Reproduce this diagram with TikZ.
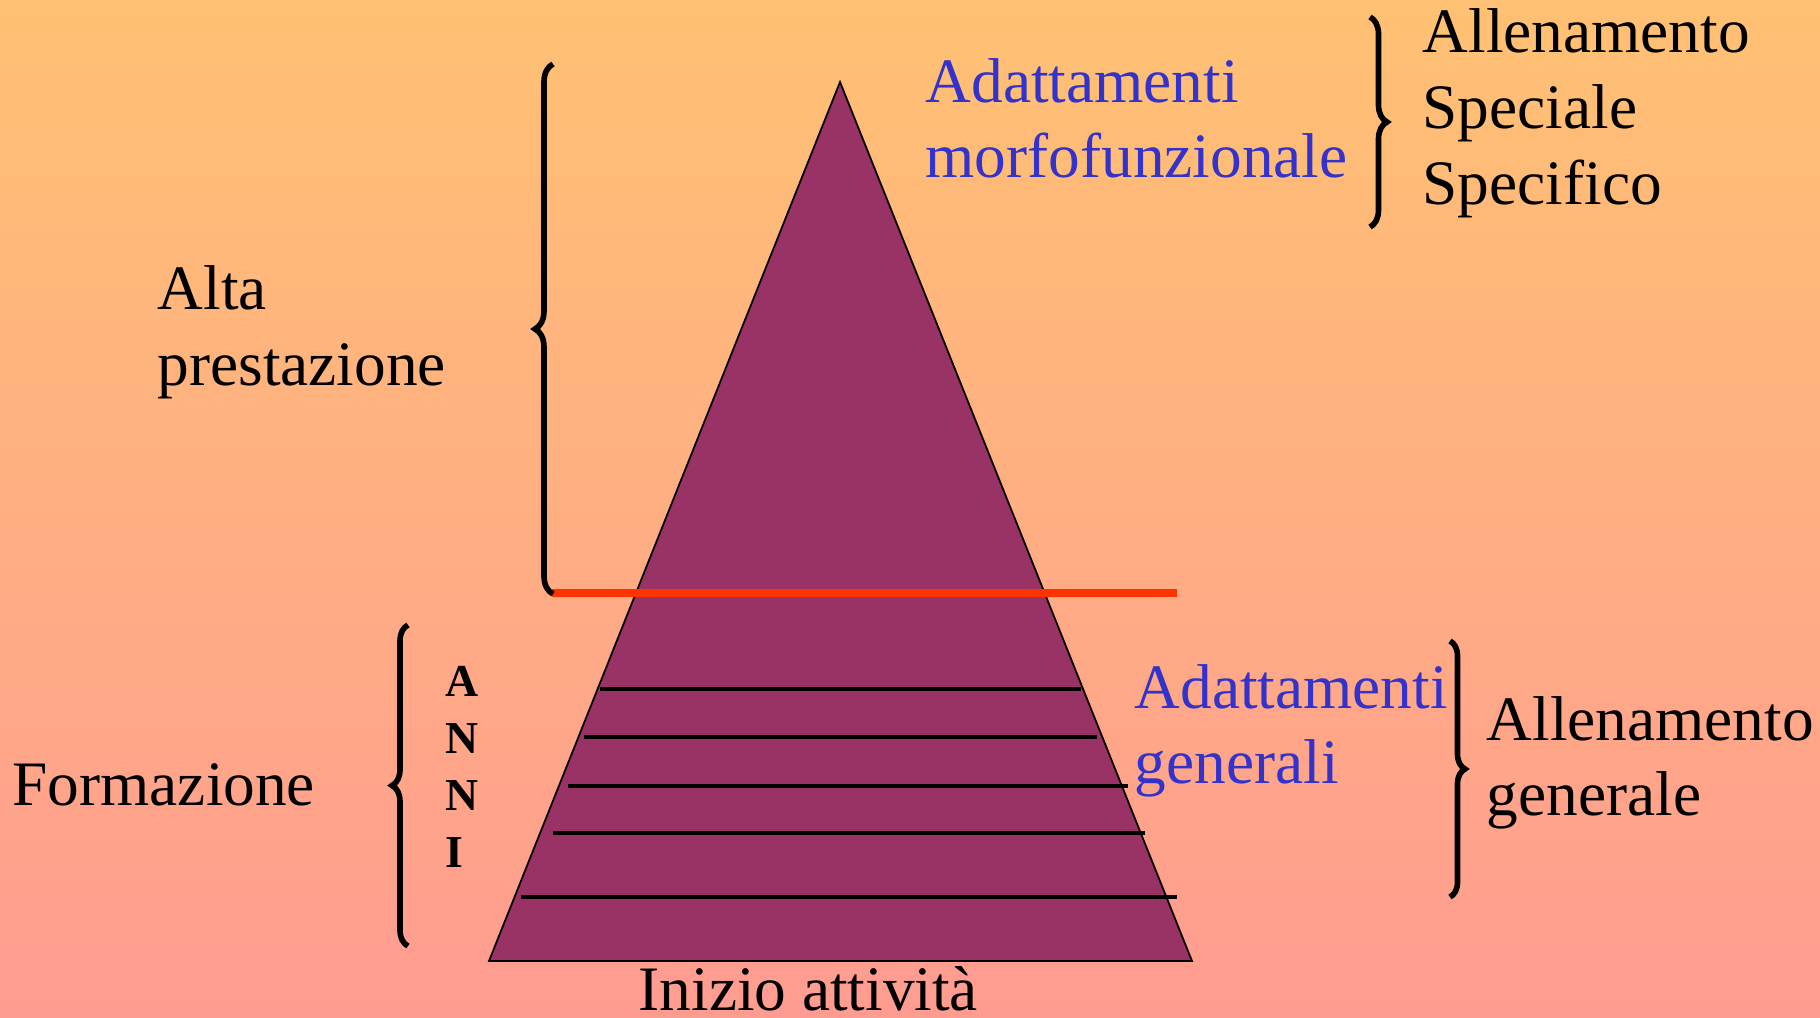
\documentclass[tikz,border=0pt]{standalone}
\usepackage{fontspec}
\setmainfont{Liberation Serif}
\usetikzlibrary{decorations.pathreplacing}
\definecolor{bgtop}{RGB}{255,193,115}
\definecolor{bgbot}{RGB}{255,156,145}
\definecolor{tri}{RGB}{153,51,102}
\definecolor{adapt}{RGB}{51,51,204}
\definecolor{cut}{RGB}{255,51,0}
\begin{document}
\begin{tikzpicture}[x=0.01cm, y=-0.01cm,
    txt/.style={anchor=base west, inner sep=0pt, font=\fontsize{18pt}{21pt}\selectfont},
    blu/.style={txt, text=adapt},
    letter/.style={anchor=base west, inner sep=0pt, font=\fontsize{13pt}{15pt}\selectfont\bfseries},
    rung/.style={line width=1pt},
    curly/.style={decorate, decoration={brace, amplitude=#1}, line width=1.6pt},
    curly/.default=0.16cm]
            \useasboundingbox (0,0) rectangle (1820,1018);
            \shade[top color=bgtop, bottom color=bgbot] (0,0) rectangle (1820,1018);

            \coordinate (apex) at (840,82);
            \coordinate (baseL) at (489,961);
            \coordinate (baseR) at (1192,961);
            \draw[fill=tri, line width=0.5pt] (apex) -- (baseL) -- (baseR) -- cycle;

            \coordinate (cutL) at (552,593);
            \coordinate (cutR) at (1177,593);
            \draw[cut, line width=2.2pt] (cutL) -- (cutR);

            \draw[rung] (600,689) -- (1081,689);
            \draw[rung] (584,737) -- (1097,737);
            \draw[rung] (568,786) -- (1128,786);
            \draw[rung] (553,833) -- (1145,833);
            \draw[rung] (521,897) -- (1177,897);

            \node (morfoA) [blu] at (925,102) {Adattamenti};
            \node (morfoB) [blu] at (925,177) {morfofunzionale};
            \node (specA) [txt] at (1422,53) {Allenamento};
            \node (specB) [txt] at (1422,128) {Speciale};
            \node (specC) [txt] at (1422,204) {Specifico};

            \node (altaA) [txt] at (157,309) {Alta};
            \node (altaB) [txt] at (157,385) {prestazione};

            \node (formaz) [txt] at (12,805) {Formazione};
            \node (annA) [letter] at (445,696) {A};
            \node (annN) [letter] at (445,753) {N};
            \node (annM) [letter] at (445,810) {N};
            \node (annI) [letter] at (445,867) {I};

            \node (genA) [blu] at (1134,708) {Adattamenti};
            \node (genB) [blu] at (1134,783) {generali};
            \node (allgA) [txt] at (1486,740) {Allenamento};
            \node (allgB) [txt] at (1486,815) {generale};

            \node (inizio) [txt] at (638,1010) {Inizio attivit\`a};

            \coordinate (specTop) at (1370,17);
            \coordinate (specBot) at (1370,227);
            \draw[curly=0.17cm] (specTop) -- (specBot);

            \coordinate (altaTop) at (553,64);
            \coordinate (altaBot) at (553,594);
            \draw[curly=0.18cm] (altaBot) -- (altaTop);

            \coordinate (anniTop) at (408,625);
            \coordinate (anniBot) at (408,946);
            \draw[curly] (anniBot) -- (anniTop);

            \coordinate (genTop) at (1450,641);
            \coordinate (genBot) at (1450,897);
            \draw[curly=0.15cm] (genTop) -- (genBot);
\end{tikzpicture}
\end{document}
